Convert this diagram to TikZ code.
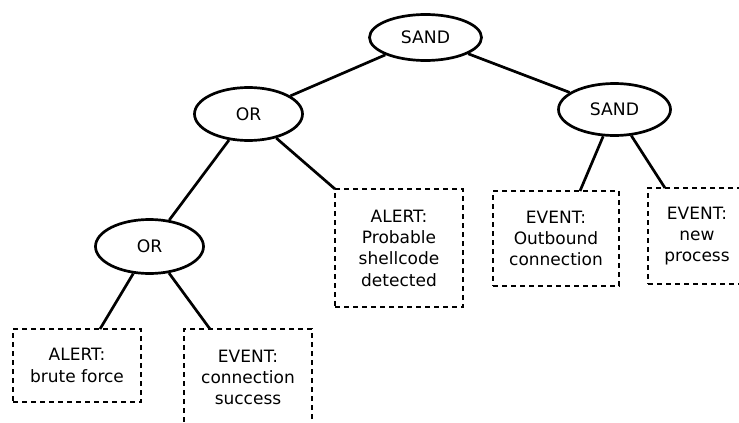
\documentclass[tikz,border=0pt]{standalone}
\usepackage{fontspec}
\setmainfont{DejaVu Sans}
\usetikzlibrary{shapes.geometric}
\begin{document}
\begin{tikzpicture}[x=1pt,y=-1pt,
  gate/.style={draw, ellipse, line width=2.7pt, inner sep=0pt,
    font=\fontsize{17.2}{21}\selectfont},
  evbox/.style={draw, line width=2.7pt, dash pattern=on 5pt off 4pt,
    inner sep=0pt, align=center, font=\fontsize{17}{21.3}\selectfont},
  link/.style={line width=2.7pt}]
\useasboundingbox (0,0) rectangle (739,423);
% gates
\node[gate, minimum width=112pt, minimum height=46pt] (sand1) at (425.5,37.5) {SAND};
\node[gate, minimum width=112pt, minimum height=52pt] (sand2) at (614.5,109.5) {SAND};
\node[gate, minimum width=108pt, minimum height=53pt] (or1) at (248.5,114) {OR};
\node[gate, minimum width=108pt, minimum height=54pt] (or2) at (149.5,246.5) {OR};
% event boxes
\node[evbox, minimum width=128pt, minimum height=73pt] (brute) at (77,365.5) {ALERT:\\brute force};
\node[evbox, minimum width=128pt, minimum height=97pt] (conn) at (248,377.5) {EVENT:\\connection\\success};
\node[evbox, minimum width=128pt, minimum height=118pt] (shell) at (399,248) {ALERT:\\Probable\\shellcode\\detected};
\node[evbox, minimum width=126pt, minimum height=95pt] (outb) at (556,238.5) {EVENT:\\Outbound\\connection};
\node[evbox, minimum width=98pt, minimum height=96pt] (newp) at (697,236) {EVENT:\\new\\process};
% attachment points on box tops
\coordinate (tbrute) at (100,329);
\coordinate (tconn) at (210,329);
\coordinate (tshell) at (335,189);
\coordinate (toutb) at (580,191);
\coordinate (tnewp) at (665,188);
% connectors
\draw[link] (sand1) -- (or1);
\draw[link] (sand1) -- (sand2);
\draw[link] (sand2) -- (toutb);
\draw[link] (sand2) -- (tnewp);
\draw[link] (or1) -- (or2);
\draw[link] (or1) -- (tshell);
\draw[link] (or2) -- (tbrute);
\draw[link] (or2) -- (tconn);
\end{tikzpicture}
\end{document}
